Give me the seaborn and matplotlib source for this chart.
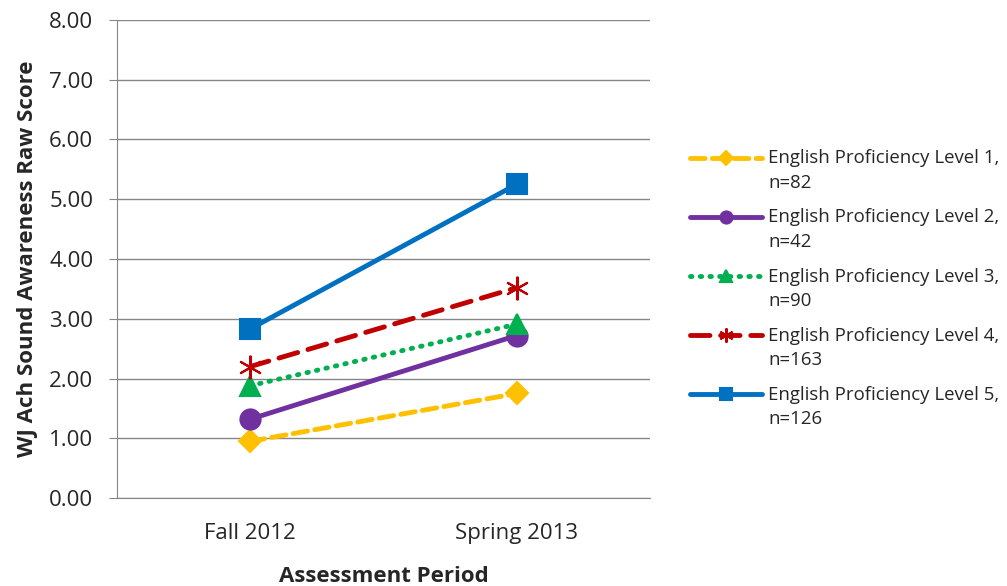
import matplotlib
matplotlib.use('Agg')
import matplotlib.pyplot as plt
from matplotlib.legend_handler import HandlerLine2D
import seaborn as sns
import pandas as pd

periods = ['Fall 2012', 'Spring 2013']
levels = ['English Proficiency Level 1,\nn=82', 'English Proficiency Level 2,\nn=42',
          'English Proficiency Level 3,\nn=90', 'English Proficiency Level 4,\nn=163',
          'English Proficiency Level 5,\nn=126']
level1 = [0.95, 1.75]
level2 = [1.32, 2.72]
level3 = [1.88, 2.91]
level4 = [2.20, 3.52]
level5 = [2.83, 5.25]

colors = ['#FFC000', '#7030A0', '#00B050', '#C00000', '#0070C0']
markers = ['D', 'o', '^', (6, 2, 0), 's']
dashes = [(3, 1.5), None, (0.3, 1.7), (4, 2.2), None]
msizes = [11.5, 14.5, 14, 17, 14]


class FirstLineHandler(HandlerLine2D):
    # put the legend line next to the first text line instead of the middle
    def create_artists(self, legend, orig_handle, xdescent, ydescent, width, height, fontsize, trans):
        arts = super().create_artists(legend, orig_handle, xdescent, ydescent, width, height, fontsize, trans)
        for a in arts:
            a.set_ydata([y + 0.7 * fontsize for y in a.get_ydata()])
        return arts


sns.set_style('white')
plt.rcParams['font.family'] = ['Open Sans', 'DejaVu Sans']

fig = plt.figure(figsize=(10.07, 5.86), dpi=100)
ax = fig.add_axes([0.116, 0.150, 0.5295, 0.816])

for i, vals in enumerate([level1, level2, level3, level4, level5]):
    df = pd.DataFrame({'period': periods, 'score': vals})
    sns.lineplot(data=df, x='period', y='score', ax=ax, color=colors[i], lw=3.5,
                 marker=markers[i], markersize=msizes[i], markeredgecolor=colors[i],
                 markeredgewidth=1.5, label=levels[i])
    line = ax.lines[-1]
    if dashes[i] is not None:
        line.set_dashes(dashes[i])
        line.set_dash_capstyle('round')

ax.set_xlim(-0.5, 1.5)
ax.set_ylim(0, 8)
ax.set_yticks(range(9))
ax.set_yticklabels(['%.2f' % v for v in range(9)], fontsize=16)
ax.set_xticks([-0.5, 0.5, 1.5], minor=False)
ax.set_xticklabels([])
ax.set_xticks([0, 1], minor=True)
ax.set_xticklabels(periods, minor=True, fontsize=16)
ax.tick_params(axis='x', which='minor', length=0, pad=18)
ax.tick_params(axis='x', which='major', length=6, color='#868686', direction='out')
ax.tick_params(axis='y', length=6, color='#868686', direction='out', left=True, pad=11)
ax.grid(axis='y', color='#868686', lw=1)
ax.set_axisbelow(True)
for s in ['top', 'right']:
    ax.spines[s].set_visible(False)
for s in ['left', 'bottom']:
    ax.spines[s].set_color('#868686')
ax.set_xlabel('Assessment Period', fontsize=16, fontweight='bold', labelpad=16)
ax.set_ylabel('WJ Ach Sound Awareness Raw Score', fontsize=16, fontweight='bold', labelpad=8)

handles, labels = ax.get_legend_handles_labels()
ax.get_legend().remove()
leg = fig.legend(handles, labels, loc='upper left', bbox_to_anchor=(0.685, 0.745), frameon=False,
                 fontsize=13.4, handlelength=3.9, labelspacing=0.9, handletextpad=0.3,
                 markerscale=0.6, borderpad=0, borderaxespad=0,
                 handler_map={h: FirstLineHandler() for h in handles})
for t in leg.get_texts():
    t.set_linespacing(1.45)

fig.savefig('out.png', dpi=100)
